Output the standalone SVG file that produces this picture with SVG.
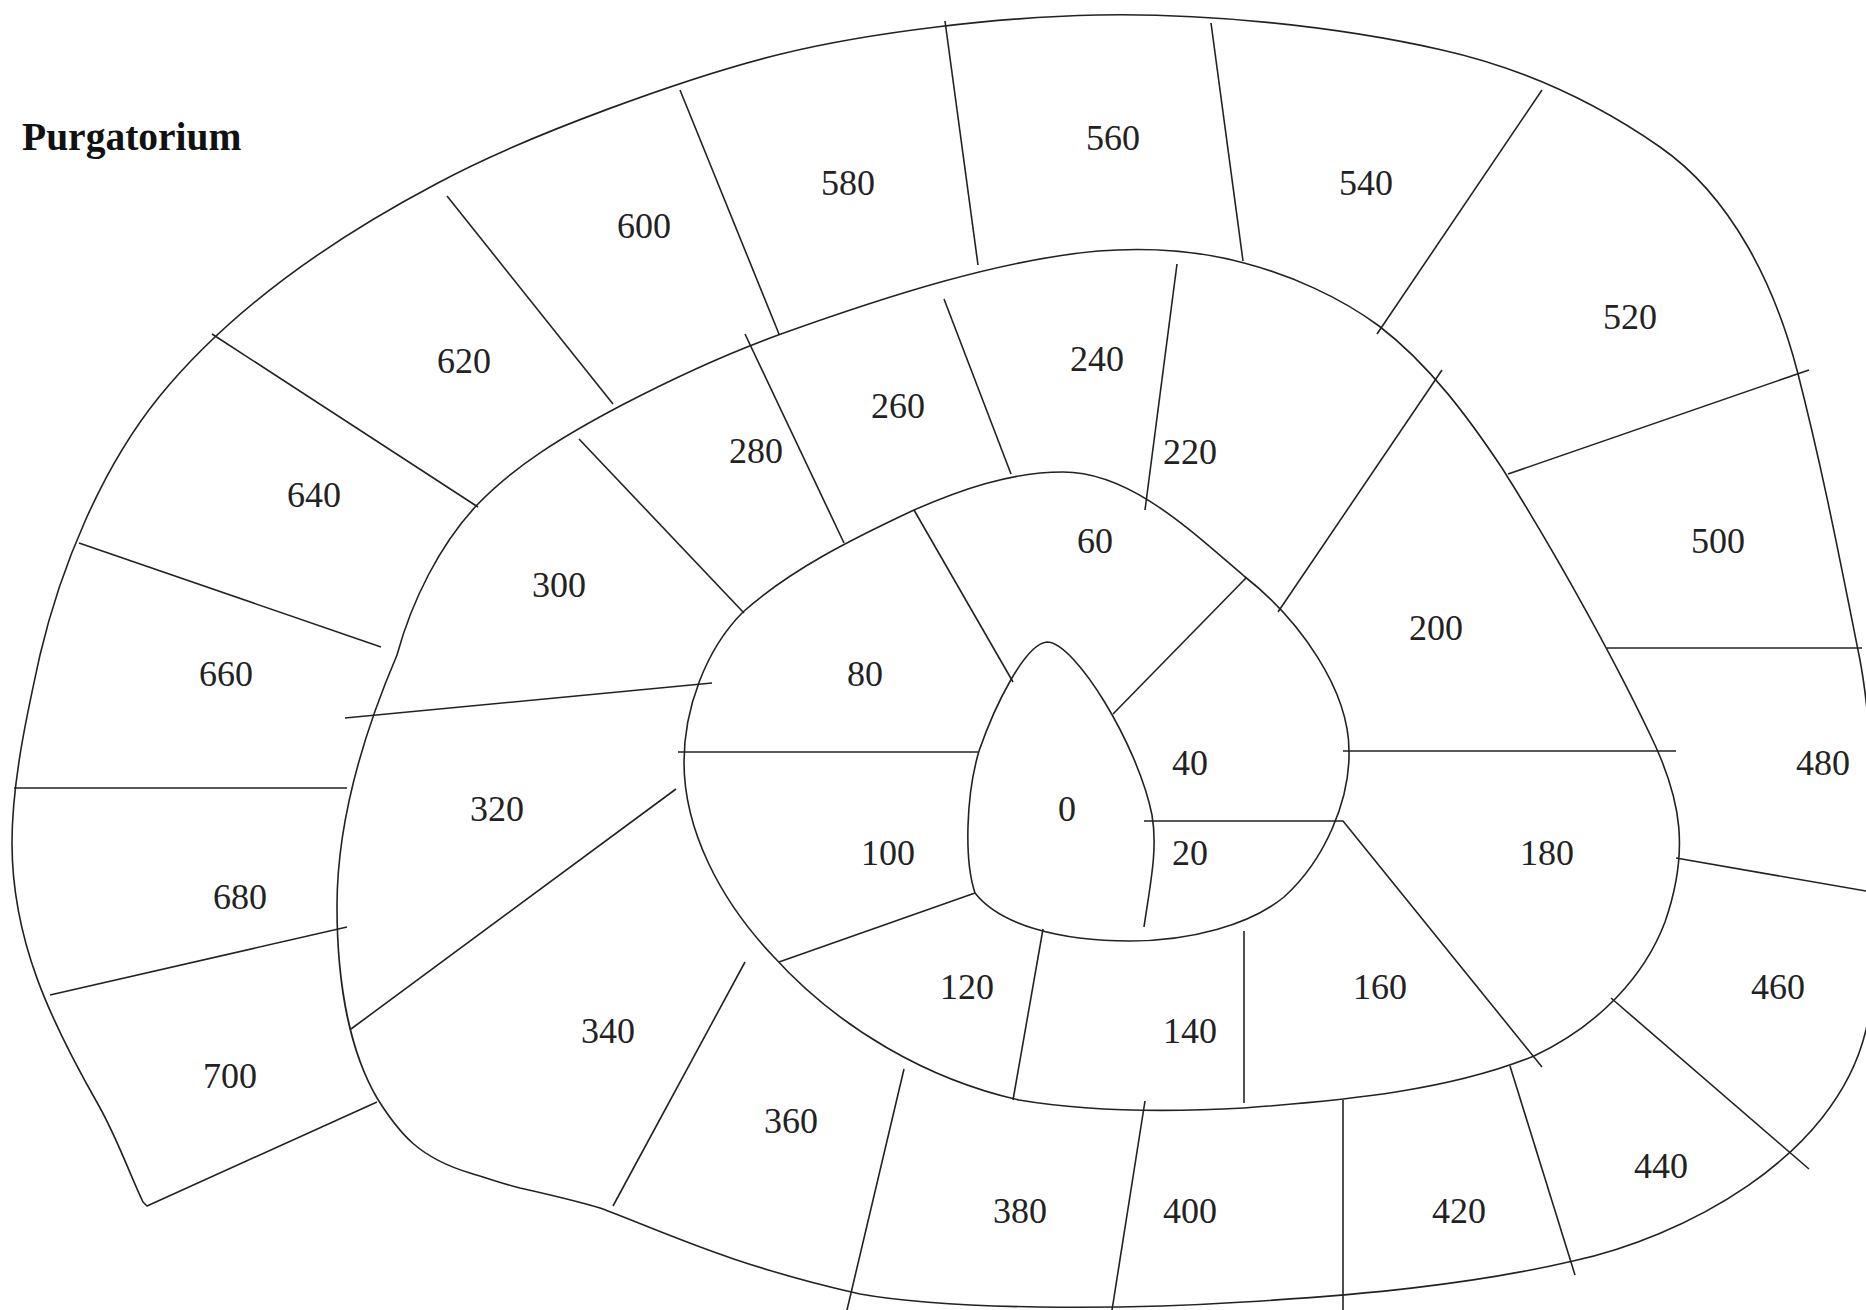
<svg xmlns="http://www.w3.org/2000/svg" width="1866" height="1310" viewBox="0 0 1866 1310">
<style>
.ln{fill:none;stroke:#222;stroke-width:1.6;stroke-linecap:butt;stroke-linejoin:round}
.lb{font-family:"Liberation Serif","Times New Roman",serif;font-size:36px;fill:#222;text-anchor:middle}
.title{font-family:"Liberation Serif","Times New Roman",serif;font-size:39.5px;font-weight:bold;fill:#111}
</style>
<rect width="1866" height="1310" fill="#fff"/>
<g id="spiral">
<path class="ln" d="M1144,927 C1150,885 1158,850 1152,815 C1138,745 1075,642 1047,642 C1025,644 995,705 979,751 C966,795 964,860 975,893 C1000,925 1060,941 1130,941 C1190,941 1250,925 1284,897 C1325,860 1350,800 1349,751 C1349,690 1300,620 1244,576 C1190,530 1130,472 1063,472 C1010,472 960,490 914,510 C850,540 790,570 743,612 C705,650 684,710 684,762 C684,830 720,900 773,956 C840,1030 930,1080 1019,1100 C1090,1112 1170,1112 1244,1108 C1350,1100 1450,1090 1534,1056 C1600,1025 1645,975 1665,922 C1690,850 1680,800 1655,745 C1620,670 1560,560 1502,468 C1470,420 1430,365 1379,326 C1340,297 1290,275 1244,263 C1200,251 1150,247 1098,251 C1000,260 890,295 781,334 C720,356 670,380 622,405 C565,435 515,465 476,506 C440,545 412,600 397,655 C365,730 337,820 337,906 C337,990 352,1055 377,1098 C400,1135 420,1158 470,1173 C490,1179 500,1183 520,1188 C560,1197 590,1205 600,1208 C660,1230 730,1265 860,1294 C950,1310 1120,1310 1244,1302 C1360,1295 1470,1285 1573,1261 C1680,1238 1835,1160 1866,1030 C1878,980 1879,755 1859,655 C1839,555 1822,467 1797,370 C1775,286 1732,197 1660,147 C1594,101 1520,67.5 1442,50 C1332,25 1200,13 1098,15 C1000,17 871,32 781,54 C691,76 526,135 436,184 C330,240 230,310 159,397 C100,470 60,570 40,655 C28,710 12,780 12,843 C12,940 50,1020 99,1106 C118,1140 130,1175 143,1202 L147,1206 L377,1102"/>
</g>
<g id="dividers">
<polyline class="ln" points="1144,821 1343,821 1542,1067"/>
<line class="ln" x1="914" y1="510" x2="1013" y2="682"/>
<line class="ln" x1="1246" y1="578" x2="1113" y2="714"/>
<line class="ln" x1="975" y1="893" x2="779" y2="962"/>
<line class="ln" x1="1043" y1="929" x2="1013" y2="1100"/>
<line class="ln" x1="1244" y1="931" x2="1244" y2="1103"/>
<line class="ln" x1="1343" y1="751" x2="1676" y2="751"/>
<line class="ln" x1="1442" y1="370" x2="1278" y2="612"/>
<line class="ln" x1="1177" y1="264" x2="1145" y2="510"/>
<line class="ln" x1="944" y1="299" x2="1011" y2="474"/>
<line class="ln" x1="745" y1="334" x2="844" y2="543"/>
<line class="ln" x1="579" y1="439" x2="744" y2="613"/>
<line class="ln" x1="345" y1="718" x2="712" y2="683"/>
<line class="ln" x1="678" y1="752" x2="978" y2="752"/>
<line class="ln" x1="351" y1="1029" x2="676" y2="789"/>
<line class="ln" x1="613" y1="1206" x2="745" y2="962"/>
<line class="ln" x1="904" y1="1069" x2="847" y2="1310"/>
<line class="ln" x1="1145" y1="1101" x2="1112" y2="1310"/>
<line class="ln" x1="1343" y1="1100" x2="1343" y2="1310"/>
<line class="ln" x1="1510" y1="1066" x2="1575" y2="1275"/>
<line class="ln" x1="1611" y1="998" x2="1809" y2="1169"/>
<line class="ln" x1="1676" y1="858" x2="1866" y2="891"/>
<line class="ln" x1="1607" y1="648" x2="1862" y2="648"/>
<line class="ln" x1="1809" y1="370" x2="1508" y2="474"/>
<line class="ln" x1="1542" y1="90" x2="1377" y2="334"/>
<line class="ln" x1="1211" y1="23" x2="1243" y2="261"/>
<line class="ln" x1="945" y1="21" x2="978" y2="265"/>
<line class="ln" x1="680" y1="90" x2="779" y2="334"/>
<line class="ln" x1="447" y1="196" x2="613" y2="404"/>
<line class="ln" x1="212" y1="334" x2="478" y2="507"/>
<line class="ln" x1="79" y1="543" x2="381" y2="647"/>
<line class="ln" x1="14" y1="788" x2="347" y2="788"/>
<line class="ln" x1="50" y1="995" x2="347" y2="927"/>
</g>
<text class="title" x="22" y="150">Purgatorium</text>
<g id="labels">
<text class="lb" x="1067" y="821">0</text>
<text class="lb" x="1190" y="865">20</text>
<text class="lb" x="1190" y="775">40</text>
<text class="lb" x="1095" y="553">60</text>
<text class="lb" x="865" y="686">80</text>
<text class="lb" x="888" y="865">100</text>
<text class="lb" x="967" y="999">120</text>
<text class="lb" x="1190" y="1043">140</text>
<text class="lb" x="1380" y="999">160</text>
<text class="lb" x="1547" y="865">180</text>
<text class="lb" x="1436" y="640">200</text>
<text class="lb" x="1190" y="464">220</text>
<text class="lb" x="1097" y="371">240</text>
<text class="lb" x="898" y="418">260</text>
<text class="lb" x="756" y="463">280</text>
<text class="lb" x="559" y="597">300</text>
<text class="lb" x="497" y="821">320</text>
<text class="lb" x="608" y="1043">340</text>
<text class="lb" x="791" y="1133">360</text>
<text class="lb" x="1020" y="1223">380</text>
<text class="lb" x="1190" y="1223">400</text>
<text class="lb" x="1459" y="1223">420</text>
<text class="lb" x="1661" y="1178">440</text>
<text class="lb" x="1778" y="999">460</text>
<text class="lb" x="1823" y="775">480</text>
<text class="lb" x="1718" y="553">500</text>
<text class="lb" x="1630" y="329">520</text>
<text class="lb" x="1366" y="195">540</text>
<text class="lb" x="1113" y="150">560</text>
<text class="lb" x="848" y="195">580</text>
<text class="lb" x="644" y="238">600</text>
<text class="lb" x="464" y="373">620</text>
<text class="lb" x="314" y="507">640</text>
<text class="lb" x="226" y="686">660</text>
<text class="lb" x="240" y="909">680</text>
<text class="lb" x="230" y="1088">700</text>
</g>
</svg>
